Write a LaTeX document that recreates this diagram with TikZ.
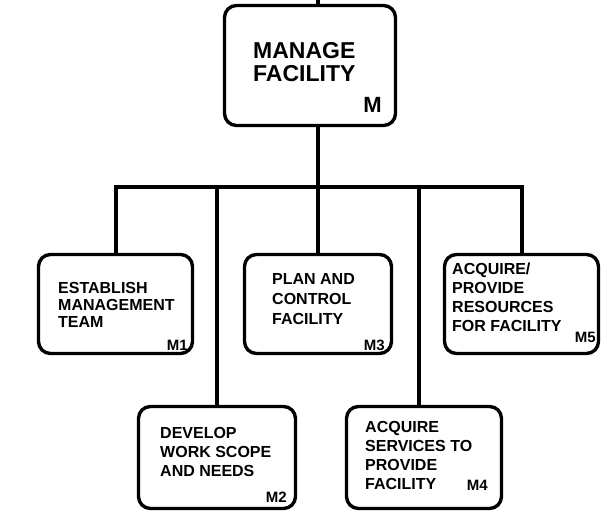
\documentclass[tikz,border=0pt]{standalone}
\usepackage{fontspec}
\setmainfont{Liberation Sans}
\usetikzlibrary{positioning}
\begin{document}
\begin{tikzpicture}[x=1pt,y=-1pt]
% définition des paramètres
\tikzstyle boitemichael=[draw=black,line width=3.4pt,rounded corners=12pt,inner sep=0pt]
\tikzstyle lienmichael=[draw=black,line width=4pt]
\tikzstyle textemichael=[anchor=north west,inner sep=0pt,align=left,font=\bfseries\fontsize{16}{19}\selectfont]
\tikzstyle codemichael=[anchor=base east,inner sep=0pt,font=\bfseries\fontsize{15}{15}\selectfont]
\newcommand{\busy}{187} % ordonnée de la barre horizontale
\newcommand{\axex}{318} % abscisse du trait central
\useasboundingbox (0,0) rectangle (607,513);
% les boites
\node[boitemichael,minimum width=171pt,minimum height=120pt] (M) at (310,65.5) {};
\node[boitemichael,minimum width=154pt,minimum height=99pt] (M1) at (115.5,304) {};
\node[boitemichael,minimum width=147pt,minimum height=99pt] (M3) at (318,304) {};
\node[boitemichael,minimum width=154pt,minimum height=99pt] (M5) at (521.5,304) {};
\node[boitemichael,minimum width=157pt,minimum height=102pt] (M2) at (217,457.5) {};
\node[boitemichael,minimum width=155pt,minimum height=102pt] (M4) at (424,457.5) {};
% les textes
\node[textemichael,font=\bfseries\fontsize{23}{23.5}\selectfont] (tM) at (253,42) {MANAGE\\FACILITY};
\node[codemichael,font=\bfseries\fontsize{22}{22}\selectfont] (cM) at (382,113) {M};
\node[textemichael,font=\bfseries\fontsize{16}{17}\selectfont] (tM1) at (58,282) {ESTABLISH\\MANAGEMENT\\TEAM};
\node[codemichael] (cM1) at (188,350) {M1};
\node[textemichael,font=\bfseries\fontsize{16}{20}\selectfont] (tM3) at (272,273) {PLAN AND\\CONTROL\\FACILITY};
\node[codemichael] (cM3) at (385,350) {M3};
\node[textemichael] (tM5) at (452,263) {ACQUIRE/\\PROVIDE\\RESOURCES\\FOR FACILITY};
\node[codemichael] (cM5) at (596,342) {M5};
\node[textemichael] (tM2) at (160,427) {DEVELOP\\WORK SCOPE\\AND NEEDS};
\node[codemichael] (cM2) at (287,502) {M2};
\node[textemichael] (tM4) at (365,421) {ACQUIRE\\SERVICES TO\\PROVIDE\\FACILITY};
\node[codemichael] (cM4) at (488,490) {M4};
% les liens
\coordinate (haut) at (\axex,0);
\coordinate (barre) at (\axex,\busy);
\draw[lienmichael] (haut) -- (haut |- M.north);
\draw[lienmichael] (haut |- M.south) -- (barre);
\draw[lienmichael] (M1.north) -- (M1.north |- barre) -- (M5.north |- barre) -- (M5.north);
\draw[lienmichael] (barre) -- (M3.north);
\draw[lienmichael] (M2.north |- barre) -- (M2.north);
\draw[lienmichael] (419,\busy) -- (419,0 |- M4.north);
\end{tikzpicture}
\end{document}
